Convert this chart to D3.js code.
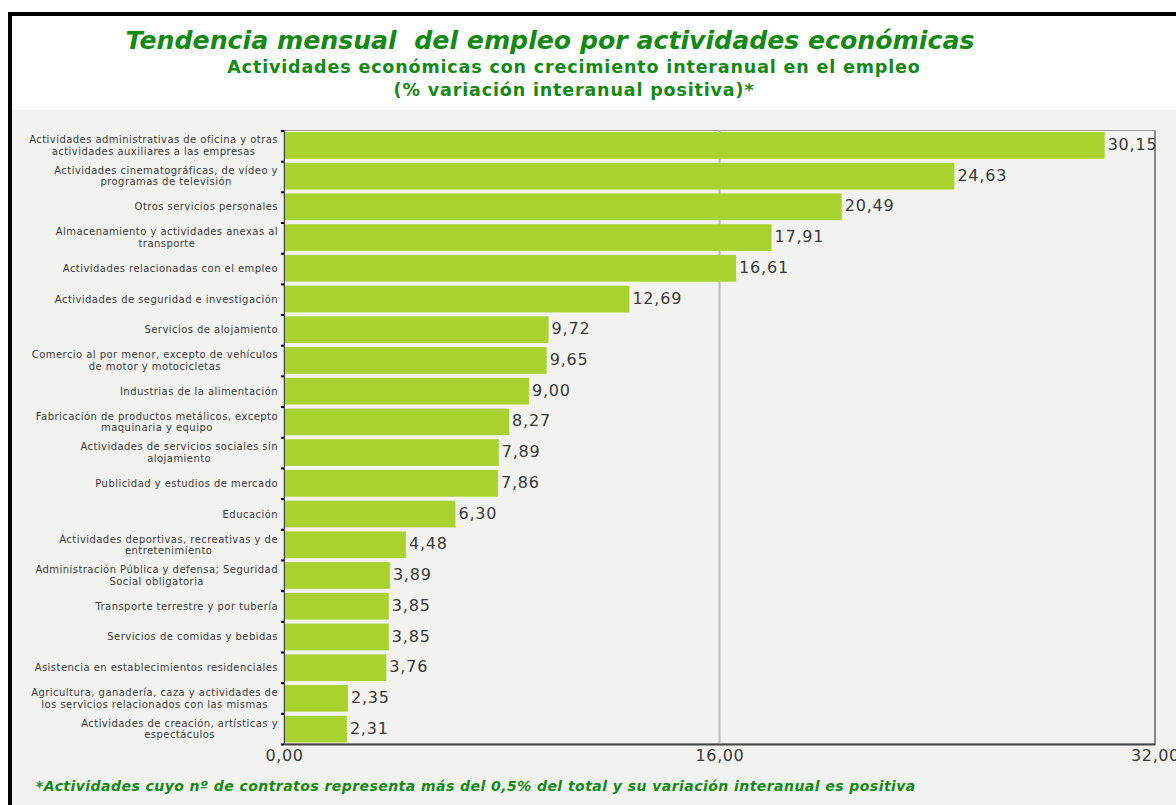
<!DOCTYPE html>
<html>
<head>
<meta charset="utf-8">
<script src="https://cdn.jsdelivr.net/npm/d3@7"></script>
<style>
  body { margin: 0; background: #fff; }
  svg { display: block; }
</style>
</head>
<body>
<div id="chart"></div>
<script>

// categories, top to bottom ('|' marks a line break in the label)
var categories = [
    'Actividades administrativas de oficina y otras|actividades auxiliares a las empresas',
    'Actividades cinematográficas, de vídeo y|programas de televisión',
    'Otros servicios personales',
    'Almacenamiento y actividades anexas al|transporte',
    'Actividades relacionadas con el empleo',
    'Actividades de seguridad e investigación',
    'Servicios de alojamiento',
    'Comercio al por menor, excepto de vehículos|de motor y motocicletas',
    'Industrias de la alimentación',
    'Fabricación de productos metálicos, excepto|maquinaria y equipo',
    'Actividades de servicios sociales sin|alojamiento',
    'Publicidad y estudios de mercado',
    'Educación',
    'Actividades deportivas, recreativas y de|entretenimiento',
    'Administración Pública y defensa; Seguridad|Social obligatoria',
    'Transporte terrestre y por tubería',
    'Servicios de comidas y bebidas',
    'Asistencia en establecimientos residenciales',
    'Agricultura, ganadería, caza y actividades de|los servicios relacionados con las mismas',
    'Actividades de creación, artísticas y|espectáculos'
];

var values = [30.15, 24.63, 20.49, 17.91, 16.61, 12.69, 9.72, 9.65, 9.00, 8.27,
              7.89, 7.86, 6.30, 4.48, 3.89, 3.85, 3.85, 3.76, 2.35, 2.31];

var xTicks = [0, 16, 32];

var titleText = 'Tendencia mensual  del empleo por actividades económicas';
var subtitleLines = ['Actividades económicas con crecimiento interanual en el empleo',
                     '(% variación interanual positiva)*'];
var footnote = '*Actividades cuyo nº de contratos representa más del 0,5% del total y su variación interanual es positiva';

var W = 1176, H = 805;
var plot = { left: 284, right: 1155, top: 130.5, bottom: 744 };
var green = '#138a13', barColor = '#a9d22f', textColor = '#3a3a3a';
var font = '"DejaVu Sans", Verdana, sans-serif';

var fmt = function (v) { return d3.format('.2f')(v).replace('.', ','); };

var svg = d3.select('#chart').append('svg').attr('width', W).attr('height', H)
    .style('font-family', font);

// frame and panel
svg.append('rect').attr('x', 12).attr('y', 110).attr('width', W).attr('height', H)
    .attr('fill', '#f2f2f0');
svg.append('rect').attr('x', 8).attr('y', 12).attr('width', W).attr('height', 4).attr('fill', '#000');
svg.append('rect').attr('x', 8).attr('y', 12).attr('width', 4).attr('height', H).attr('fill', '#000');

// titles
svg.append('text').attr('x', 550).attr('y', 49).attr('text-anchor', 'middle')
    .attr('font-size', 25.2).attr('font-weight', 'bold').attr('font-style', 'italic')
    .attr('fill', green).attr('xml:space', 'preserve').text(titleText);
svg.selectAll('text.sub').data(subtitleLines).enter().append('text')
    .attr('class', 'sub')
    .attr('x', 574).attr('y', (d, i) => 73 + i * 23).attr('text-anchor', 'middle')
    .attr('font-size', 17.5).attr('font-weight', 'bold').attr('fill', green)
    .attr('letter-spacing', 0.85)
    .text(d => d);

// scales
var x = d3.scaleLinear().domain([0, 32]).range([plot.left, plot.right]);
var y = d3.scaleBand().domain(categories).range([plot.top, plot.bottom])
    .paddingInner(0.13).paddingOuter(0.05);
var yIdx = d3.scaleLinear().domain([0, categories.length]).range([plot.top, plot.bottom]);

var g = svg.append('g');

// plot frame
g.append('rect').attr('x', plot.left).attr('y', plot.top)
    .attr('width', plot.right - plot.left).attr('height', plot.bottom - plot.top)
    .attr('fill', 'none').attr('stroke', '#999').attr('stroke-width', 1);
g.append('line').attr('x1', plot.right).attr('x2', plot.right)
    .attr('y1', plot.top).attr('y2', plot.bottom).attr('stroke', '#888').attr('stroke-width', 2);

// gridline at 16
g.append('line').attr('x1', x(16)).attr('x2', x(16))
    .attr('y1', plot.top).attr('y2', plot.bottom).attr('stroke', '#bdbdbd').attr('stroke-width', 2);

// bars
g.selectAll('rect.bar').data(values).enter().append('rect')
    .attr('class', 'bar')
    .attr('x', x(0))
    .attr('y', (d, i) => y(categories[i]))
    .attr('width', d => x(d) - x(0))
    .attr('height', y.bandwidth())
    .attr('fill', barColor);

// value labels
g.selectAll('text.val').data(values).enter().append('text')
    .attr('class', 'val')
    .attr('x', d => x(d) + 3)
    .attr('y', (d, i) => y(categories[i]) + y.bandwidth() / 2 - 1)
    .attr('dy', '0.35em')
    .attr('font-size', 16).attr('letter-spacing', 0.8).attr('fill', textColor)
    .text(fmt);

// left axis with ticks at band boundaries
var leftAxis = g.append('g').attr('transform', `translate(${plot.left},0)`)
    .call(d3.axisLeft(yIdx).tickValues(d3.range(categories.length + 1)).tickSize(3).tickFormat(''));
leftAxis.select('.domain').attr('stroke', '#444').attr('stroke-width', 1);
leftAxis.selectAll('.tick line').attr('stroke', '#000').attr('stroke-width', 2);

// bottom axis
var bottomAxis = g.append('g').attr('transform', `translate(0,${plot.bottom})`)
    .call(d3.axisBottom(x).tickValues(xTicks).tickSize(0).tickPadding(6).tickFormat(fmt));
bottomAxis.select('.domain').attr('stroke', '#444').attr('stroke-width', 2);
bottomAxis.selectAll('text').attr('font-size', 16).attr('letter-spacing', 0.6)
    .attr('fill', textColor).attr('font-family', font);

// category labels, centered block right-aligned to the axis
var labelRight = plot.left - 6;
categories.forEach(function (c, i) {
    var lines = c.split('|');
    var cy = y(c) + y.bandwidth() / 2;
    var grp = g.append('g');
    var texts = lines.map(function (l, j) {
        return grp.append('text')
            .attr('y', cy + (j - (lines.length - 1) / 2) * 11.5)
            .attr('dy', '0.35em')
            .attr('font-size', 10).attr('letter-spacing', 0.45).attr('fill', textColor)
            .attr('text-anchor', 'middle')
            .text(l);
    });
    var maxW = d3.max(texts, t => t.node().getComputedTextLength());
    texts.forEach(t => t.attr('x', labelRight - maxW / 2));
});

// footnote
svg.append('text').attr('x', 36).attr('y', 791)
    .attr('font-size', 14).attr('letter-spacing', 0.45)
    .attr('font-weight', 'bold').attr('font-style', 'italic')
    .attr('fill', green).text(footnote);

</script>
</body>
</html>
